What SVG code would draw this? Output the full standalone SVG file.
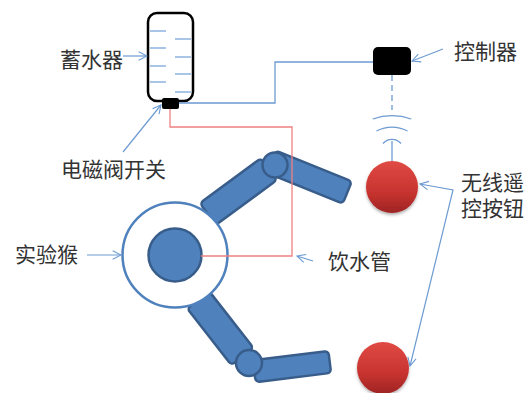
<svg xmlns="http://www.w3.org/2000/svg" width="531" height="393" viewBox="0 0 531 393">
  <defs>
    <style>
      .label { font-family: "Noto Sans CJK SC", "Liberation Sans", sans-serif; font-size: 21px; fill: #333; }
      .wire { fill: none; stroke: #6C9BD2; stroke-width: 1.3; }
      .pointer { fill: none; stroke: #6C9BD2; stroke-width: 1.2; }
      .pipe { fill: none; stroke: #EE8080; stroke-width: 1.3; }
      .limb { fill: #4F81BD; stroke: #385D8A; stroke-width: 2.5; }
      .tick { stroke: #8DB3E2; stroke-width: 1.5; }
      .button { fill: url(#btnGrad); filter: url(#btnShadow); }
    </style>
    <marker id="arrow" viewBox="0 0 12 12" refX="11" refY="6" markerWidth="10" markerHeight="10" markerUnits="userSpaceOnUse" orient="auto-start-reverse">
      <path d="M1,1 L11,6 L1,11" fill="none" stroke="#6C9BD2" stroke-width="1.3"/>
    </marker>
    <linearGradient id="btnGrad" x1="0" y1="0" x2="0" y2="1">
      <stop offset="0" stop-color="#E04A45"/>
      <stop offset="0.6" stop-color="#C8332F"/>
      <stop offset="1" stop-color="#9E2424"/>
    </linearGradient>
    <filter id="btnShadow" x="-30%" y="-30%" width="160%" height="170%">
      <feDropShadow dx="0" dy="2" stdDeviation="1.5" flood-color="#000" flood-opacity="0.3"/>
    </filter>
  </defs>

  <!-- water reservoir -->
  <g id="reservoir">
    <rect x="148" y="13" width="45" height="88" rx="9" fill="#fff" stroke="#000" stroke-width="2.5"/>
    <line class="tick" x1="150" y1="31" x2="166" y2="31"/>
    <line class="tick" x1="150" y1="48" x2="166" y2="48"/>
    <line class="tick" x1="150" y1="66" x2="166" y2="66"/>
    <line class="tick" x1="150" y1="82" x2="166" y2="82"/>
    <line class="tick" x1="175" y1="39" x2="191" y2="39"/>
    <line class="tick" x1="175" y1="57" x2="191" y2="57"/>
    <line class="tick" x1="175" y1="74" x2="191" y2="74"/>
    <line class="tick" x1="175" y1="92" x2="191" y2="92"/>
  </g>

  <!-- solenoid valve -->
  <g id="valve">
    <rect x="162" y="98" width="17" height="11" rx="2" fill="#000"/>
  </g>

  <!-- controller -->
  <g id="controller">
    <rect x="373" y="47" width="38" height="28" rx="5" fill="#000"/>
  </g>

  <!-- monkey arms -->
  <g id="arm-upper">
    <rect class="limb" x="-38" y="-13.5" width="76" height="27" rx="4" transform="translate(238.5 191.5) rotate(-36.4)"/>
    <rect class="limb" x="-41" y="-12" width="82" height="24" rx="4" transform="translate(309.3 177.1) rotate(22)"/>
    <circle class="limb" cx="275" cy="165" r="12.5"/>
  </g>
  <g id="arm-lower">
    <rect class="limb" x="-36" y="-14" width="72" height="28" rx="4" transform="translate(220.3 328.2) rotate(52)"/>
    <rect class="limb" x="-38" y="-11" width="76" height="22" rx="4" transform="translate(292 366.6) rotate(-7)"/>
    <circle class="limb" cx="249" cy="363" r="13"/>
  </g>

  <!-- monkey -->
  <g id="monkey">
    <circle cx="175" cy="255" r="52.5" fill="#fff" stroke="#4F81BD" stroke-width="2.5"/>
    <circle class="limb" cx="175" cy="255" r="26.5"/>
  </g>

  <!-- wireless buttons -->
  <g id="button-top">
    <circle class="button" cx="392" cy="187" r="26"/>
  </g>
  <g id="button-bottom">
    <circle class="button" cx="383" cy="368" r="26"/>
  </g>

  <!-- connectors -->
  <g id="connectors">
    <polyline class="pipe" points="170,109 170,127 292,127 292,256 201,256"/>
    <polyline class="wire" points="179,103 275,103 275,62 373,62"/>
    <line class="wire" x1="392" y1="75" x2="392" y2="110" stroke-dasharray="6 4"/>
    <path class="wire" d="M372.7,119 A58,58 0 0 1 411.3,119"/>
    <path class="wire" d="M376.5,131 A35,35 0 0 1 407.5,131"/>
    <path class="wire" d="M383,143.5 A12,12 0 0 1 401,143.5"/>
    <line class="wire" x1="392" y1="141" x2="392" y2="161"/>

    <line class="pointer" x1="123" y1="56" x2="147" y2="56" marker-end="url(#arrow)"/>
    <line class="pointer" x1="123" y1="152" x2="161" y2="105" marker-end="url(#arrow)"/>
    <line class="pointer" x1="87" y1="255" x2="121" y2="255" marker-end="url(#arrow)"/>
    <line class="pointer" x1="443" y1="49" x2="412" y2="61" marker-end="url(#arrow)"/>
    <line class="pointer" x1="313" y1="261" x2="297" y2="256" marker-end="url(#arrow)"/>
    <path class="pointer" d="M420,184 L453,190 L410,366" marker-start="url(#arrow)" marker-end="url(#arrow)"/>
  </g>

  <!-- labels -->
  <g id="labels">
    <text class="label" x="60" y="66.5">蓄水器</text>
    <text class="label" x="454" y="59">控制器</text>
    <text class="label" x="61" y="176.5">电磁阀开关</text>
    <text class="label" x="15" y="261.5">实验猴</text>
    <text class="label" x="328" y="269">饮水管</text>
    <text class="label" x="461" y="190">无线遥</text>
    <text class="label" x="461" y="215.5">控按钮</text>
  </g>
</svg>
